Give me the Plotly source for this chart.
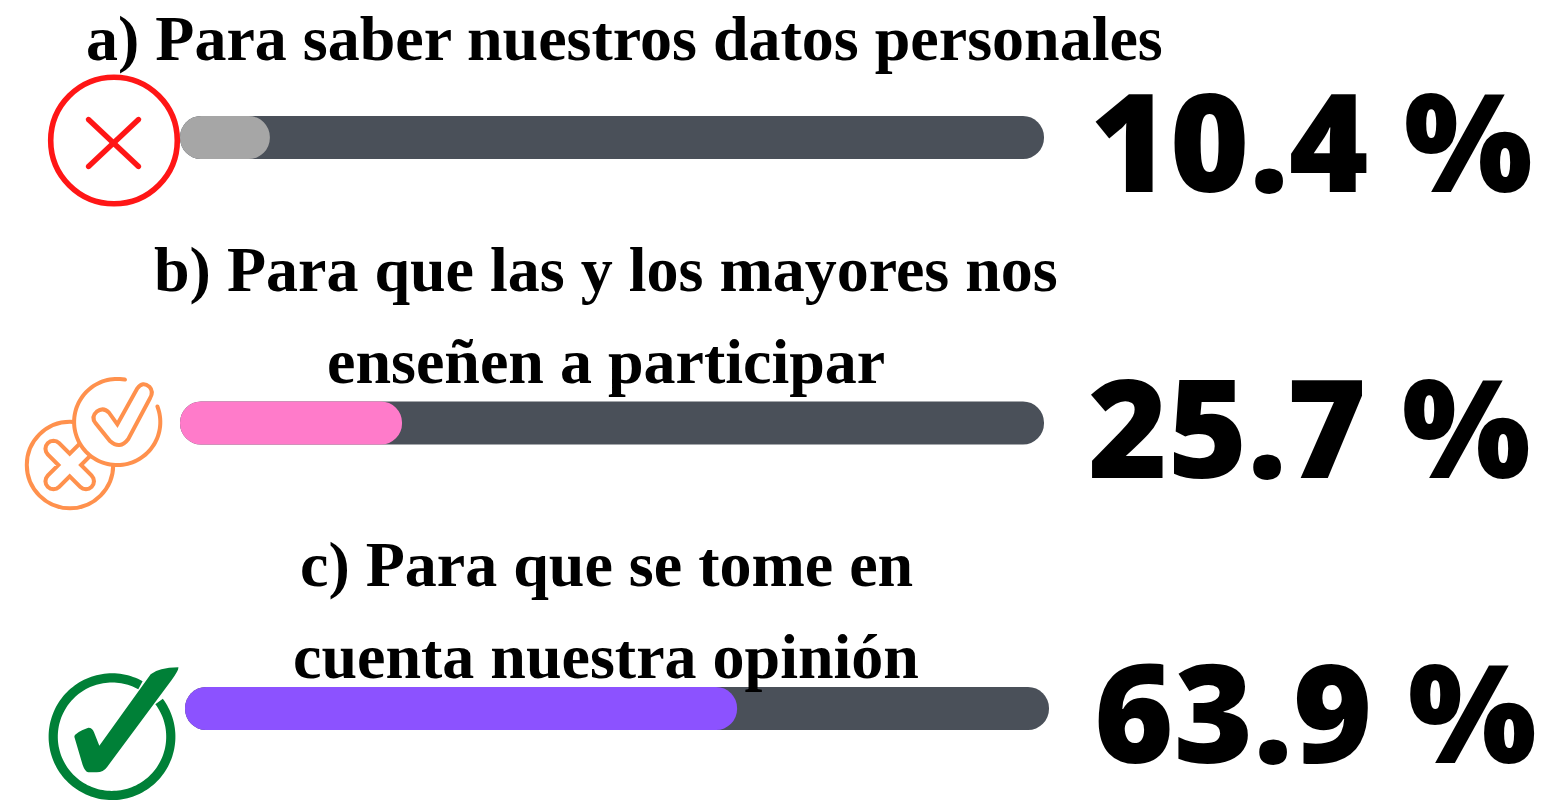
import math
import plotly.graph_objects as go

# ---- data ----
categories = ["a", "b", "c"]
values = [10.4, 25.7, 63.9]
full_scale = [100, 100, 100]
title_lines = [
    ["a) Para saber nuestros datos personales"],
    ["b) Para que las y los mayores nos", "enseñen a participar"],
    ["c) Para que se tome en", "cuenta nuestra opinión"],
]
fill_colors = ["#a6a6a6", "#ff7bca", "#8c52ff"]
track_color = "#4a5059"

# ---- layout constants ----
W, H = 1557, 810
SERIF = "Liberation Serif"
SANS = "Open Sans"
title_pos = [[(624.5, 38)], [(606, 270), (606, 362)], [(606, 564), (606, 656)]]
pct_pos = [(1311, 139), (1309, 425), (1315, 710)]
bar_axes = ["x", "x", "x2"]


def px(x):
    return x / W


def py(y):
    return 1 - y / H


def path_from(cmds):
    out = []
    for c in cmds:
        if isinstance(c, str):
            out.append(c)
        else:
            out.append(f"{px(c[0]):.5f},{py(c[1]):.5f}")
    s = ""
    for item in out:
        s += item if item.isalpha() else item + " "
    return s


def poly_path(pts):
    return "M" + "L".join(f"{px(x):.5f},{py(y):.5f}" for x, y in pts) + "Z"


def stroke_poly(pts, w, round_caps=True):
    """Outline of a polyline of width w, as a polygon."""
    h = w / 2
    left, right = [], []
    n = len(pts)
    for i, (x, y) in enumerate(pts):
        x0, y0 = pts[max(i - 1, 0)]
        x1, y1 = pts[min(i + 1, n - 1)]
        d = math.hypot(x1 - x0, y1 - y0) or 1
        nx, ny = -(y1 - y0) / d, (x1 - x0) / d
        left.append((x + nx * h, y + ny * h))
        right.append((x - nx * h, y - ny * h))
    poly = list(left)
    if round_caps:
        xe, ye = pts[-1]
        a = math.atan2(left[-1][1] - ye, left[-1][0] - xe)
        poly += [(xe + h * math.cos(a - math.pi * t / 8), ye + h * math.sin(a - math.pi * t / 8)) for t in range(1, 8)]
    poly += right[::-1]
    if round_caps:
        xs, ys = pts[0]
        a = math.atan2(right[0][1] - ys, right[0][0] - xs)
        poly += [(xs + h * math.cos(a - math.pi * t / 8), ys + h * math.sin(a - math.pi * t / 8)) for t in range(1, 8)]
    return poly


def arc_pts(cx, cy, r, a0, a1, n=90):
    return [(cx + r * math.cos(a0 + (a1 - a0) * i / n), cy + r * math.sin(a0 + (a1 - a0) * i / n)) for i in range(n + 1)]


def ang(dx, dy):
    return math.atan2(dy, dx)


def circle(cx, cy, r, line=None, lw=0, fill=None):
    return dict(type="circle", xref="paper", yref="paper", layer="above",
                x0=px(cx - r), x1=px(cx + r), y0=py(cy + r), y1=py(cy - r),
                line=dict(color=line or "rgba(0,0,0,0)", width=lw),
                fillcolor=fill or "rgba(0,0,0,0)")


def filled(path, color):
    return dict(type="path", xref="paper", yref="paper", layer="above", path=path,
                fillcolor=color, line=dict(width=0, color=color))


def outlined(path, color, lw):
    return dict(type="path", xref="paper", yref="paper", layer="above", path=path,
                fillcolor="rgba(0,0,0,0)", line=dict(width=lw, color=color))


def zoomed(cmds, ox, oy):
    """Icon outline given in 3x crop coordinates -> page pixels."""
    res = []
    for c in cmds:
        res.append(c if isinstance(c, str) else (c[0] / 3 + ox, c[1] / 3 + oy))
    return path_from(res)


shapes = []

# red cross icon
RED = "#ff1616"
shapes.append(circle(114, 140.5, 63.3, line=RED, lw=5.6))
shapes.append(filled(poly_path(stroke_poly([(88.5, 119.5), (138.5, 166.5)], 5.4)), RED))
shapes.append(filled(poly_path(stroke_poly([(138.5, 119.5), (88.5, 166.5)], 5.4)), RED))

# orange double icon
ORANGE = "#ff914d"
OW = 4
shapes.append(circle(70, 465, 43.2, line=ORANGE, lw=OW))
cx, cy, L, a = 69.7, 465, 31, 8
cross = []
for k in range(4):
    th = math.pi / 4 + k * math.pi / 2
    ux, uy = math.cos(th), math.sin(th)
    vx, vy = -uy, ux
    # arm with rounded end
    for t in range(0, 9):
        phi = -math.pi / 2 + math.pi * t / 8
        u = L - a + a * math.cos(phi)
        v = a * math.sin(phi)
        cross.append((cx + u * ux + v * vx, cy + u * uy + v * vy))
    # inner corner
    cross.append((cx + a * ux + a * vx + 0 * ux, cy + a * uy + a * vy))
shapes.append(outlined(poly_path(cross), ORANGE, OW))
shapes.append(circle(117.2, 422, 43.3, fill="#ffffff"))
a0 = ang(39.5, -15.3)
a1 = ang(7.8, -42.7) + 2 * math.pi
shapes.append(filled(poly_path(stroke_poly(arc_pts(117.2, 422, 43.1, a0, a1), OW)), ORANGE))
check_outline = ["M", (352, 178), "L", (412, 70), "Q", (428, 48), (448, 65), "Q", (462, 80), (450, 100),
                 "L", (385, 222), "Q", (360, 255), (330, 228), "L", (287, 175), "Q", (272, 155), (290, 140),
                 "Q", (310, 125), (327, 143), "Z"]
shapes.append(outlined(zoomed(check_outline, 0, 365), ORANGE, OW))

# green check icon
GREEN = "#008037"
a0 = ang(49, -36.7)
a1 = ang(29.7, -53.7) + 2 * math.pi
shapes.append(filled(poly_path(stroke_poly(arc_pts(112, 736.7, 58.8, a0, a1, 140), 9.2, round_caps=False)), GREEN))
green_check = ["M", (133, 245), "Q", (135, 232), (175, 218), "Q", (188, 218), (192, 232), "L", (208, 272),
               "L", (362, 58), "Q", (385, 38), (445, 37), "Q", (447, 45), (425, 75),
               "L", (232, 335),
               "Q", (220, 352), (200, 352), "L", (175, 352), "Q", (165, 350), (158, 330), "Z"]
shapes.append(filled(zoomed(green_check, 30, 655), GREEN))

# ---- bars ----
fig = go.Figure()
BAR_W = 0.1506
for cat, v, ax in zip(categories, full_scale, bar_axes):
    fig.add_trace(go.Bar(x=[v], y=[cat], base=0, orientation="h", xaxis=ax, yaxis="y", width=BAR_W,
                         marker=dict(color=track_color, line=dict(width=0)), hoverinfo="skip", showlegend=False))
for cat, v, ax, c in zip(categories, values, bar_axes, fill_colors):
    fig.add_trace(go.Bar(x=[v], y=[cat], base=0, orientation="h", xaxis=ax, yaxis="y", width=BAR_W,
                         marker=dict(color=c, line=dict(width=0)), hoverinfo="skip", showlegend=False))

annotations = []
for lines, poss in zip(title_lines, title_pos):
    for text, (x, y) in zip(lines, poss):
        annotations.append(dict(text=text, x=px(x), y=py(y), xref="paper", yref="paper",
                                xanchor="center", yanchor="middle", showarrow=False,
                                font=dict(family=SERIF, size=64, color="#000000", weight=700)))
for v, (x, y) in zip(values, pct_pos):
    annotations.append(dict(text=f"{v} %", x=px(x), y=py(y), xref="paper", yref="paper",
                            xanchor="center", yanchor="middle", showarrow=False,
                            font=dict(family=SANS, size=136, color="#000000", weight=800)))

hidden = dict(visible=False, range=[0, 100], fixedrange=True)
fig.update_layout(
    width=W, height=H, margin=dict(l=0, r=0, t=0, b=0),
    paper_bgcolor="#ffffff", plot_bgcolor="rgba(0,0,0,0)",
    barmode="overlay", barcornerradius=21.5, showlegend=False,
    xaxis=dict(domain=[px(180), px(1044)], anchor="y", **hidden),
    xaxis2=dict(domain=[px(185), px(1049)], anchor="y", **hidden),
    yaxis=dict(visible=False, type="category", categoryorder="array", categoryarray=categories,
               range=[2.3555, -0.4816], domain=[0, 1], fixedrange=True),
    shapes=shapes, annotations=annotations,
)
fig.write_html("out.html", config=dict(displayModeBar=False),
               post_script="document.body.style.margin='0';document.documentElement.style.overflow='hidden';")
